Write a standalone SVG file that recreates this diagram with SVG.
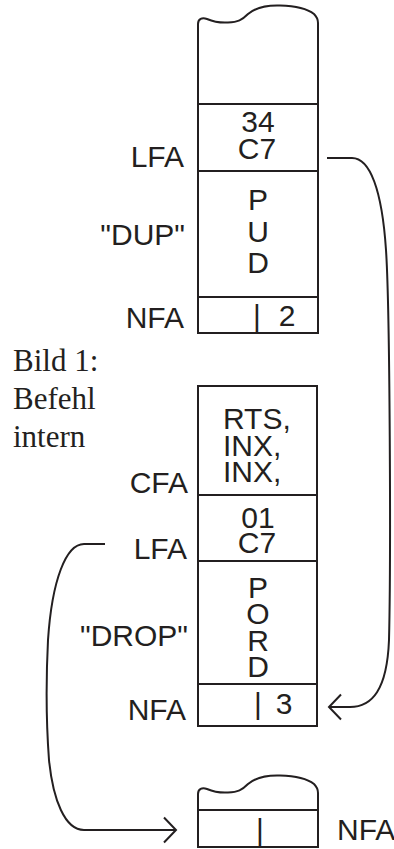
<svg xmlns="http://www.w3.org/2000/svg" width="394" height="849" viewBox="0 0 394 849">
<style>
.box{fill:none;stroke:#231f20;stroke-width:2}
.ln{fill:none;stroke:#231f20;stroke-width:2}
.s{font-family:"Liberation Sans",Arial,sans-serif;font-size:30px;fill:#231f20}
.m{text-anchor:middle}
.e{text-anchor:end}
.r{font-family:"Liberation Serif","Times New Roman",serif;font-size:31px;fill:#231f20}
.c{fill:none;stroke:#231f20;stroke-width:2}
</style>
<defs>
<marker id="chev" markerUnits="userSpaceOnUse" markerWidth="16" markerHeight="30" viewBox="-14 -14 16 28" refX="0" refY="0" orient="auto">
<path d="M-12,-12.5 L0,0 L-12,12.5" fill="none" stroke="#231f20" stroke-width="2"/>
</marker>
</defs>
<rect width="394" height="849" fill="#ffffff"/>

<g id="word-dup">
<path class="box" d="M198,333 V24 C198,19 202,17 207,19 C214,22 220,23 228,22.5 C238,22 242,20 248,14 C255,8 265,5 280,5.5 C298,6 309,10 314,14 C317,17 318,19 318,23 V333 Z"/>
<line class="ln" x1="198" y1="104" x2="318" y2="104"/>
<line class="ln" x1="198" y1="171" x2="318" y2="171"/>
<line class="ln" x1="198" y1="297" x2="318" y2="297"/>
<text class="s m"><tspan x="258" y="132">34</tspan><tspan x="257" y="159">C7</tspan></text>
<text class="s m"><tspan x="258" y="210">P</tspan><tspan x="258" y="242">U</tspan><tspan x="258" y="273">D</tspan></text>
<text class="s m" y="326"><tspan x="257">|</tspan><tspan x="287">2</tspan></text>
<text class="s e" x="184" y="167">LFA</text>
<text class="s e" x="185" y="245">"DUP"</text>
<text class="s e" x="184" y="328">NFA</text>
</g>

<g id="caption">
<text class="r"><tspan x="13" y="371">Bild 1:</tspan><tspan x="13" y="409">Befehl</tspan><tspan x="13" y="447">intern</tspan></text>
</g>

<g id="word-drop">
<rect class="box" x="198" y="386" width="119" height="340"/>
<line class="ln" x1="198" y1="495" x2="317" y2="495"/>
<line class="ln" x1="198" y1="561" x2="317" y2="561"/>
<line class="ln" x1="198" y1="684" x2="317" y2="684"/>
<text class="s"><tspan x="223" y="429">RTS,</tspan><tspan x="223" y="455.5">INX,</tspan><tspan x="223" y="482">INX,</tspan></text>
<text class="s m"><tspan x="258" y="528">01</tspan><tspan x="257" y="553">C7</tspan></text>
<text class="s m"><tspan x="258" y="598">P</tspan><tspan x="258" y="624">O</tspan><tspan x="258" y="651">R</tspan><tspan x="258" y="677">D</tspan></text>
<text class="s m" y="714"><tspan x="258">|</tspan><tspan x="284">3</tspan></text>
<text class="s e" x="188" y="493">CFA</text>
<text class="s e" x="187" y="559">LFA</text>
<text class="s e" x="188" y="646">"DROP"</text>
<text class="s e" x="186" y="720">NFA</text>
</g>

<g id="word-next">
<path class="box" d="M198,847 V794 C198,789 202,787 207,789 C214,792 220,793 228,792.5 C238,792 242,790 248,784 C255,778 265,775 280,775.5 C298,776 309,780 314,784 C317,787 318,789 318,793 V847 Z"/>
<line class="ln" x1="198" y1="810" x2="318" y2="810"/>
<text class="s m" x="260" y="840">|</text>
<text class="s" x="337" y="840">NFA</text>
</g>

<g id="connectors">
<path class="c" d="M327,158 H352 C370,158 382,190 386,250 C390,310 391,560 389,640 C387,690 372,707 350,707 H329" marker-end="url(#chev)"/>
<path class="c" d="M105,544 H84 C66,544 52,580 48,640 C46,680 46,720 49,760 C53,800 65,830 84,830 H176" marker-end="url(#chev)"/>
</g>
</svg>
